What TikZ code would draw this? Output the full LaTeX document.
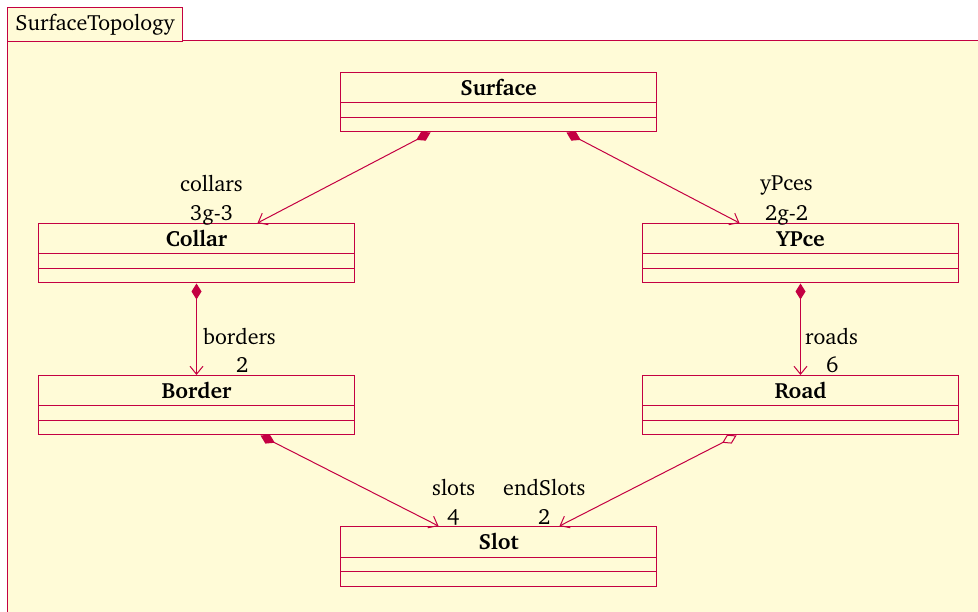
\documentclass[tikz,border=0pt]{standalone}
\usepackage[T1]{fontenc}
\usepackage{charter}
\usetikzlibrary{arrows.meta}

\definecolor{umlred}{RGB}{196,0,66}
\definecolor{umlbg}{RGB}{255,251,215}

\tikzset{
  cls/.style={draw=umlred, fill=umlbg, line width=1pt, minimum width=316pt,
              minimum height=59.5pt, inner sep=0pt, anchor=north west},
  clstitle/.style={font=\fontsize{22}{26}\selectfont\bfseries, anchor=base, inner sep=0pt},
  lbl/.style={font=\fontsize{22}{26}\selectfont, anchor=base west, inner sep=0pt},
  sep/.style={draw=umlred, line width=1pt},
  comp/.style={draw=umlred, line width=1pt,
               {Diamond[length=16pt,width=10pt,fill=umlred]}-{Straight Barb[length=8pt,width=13pt]}},
  aggr/.style={draw=umlred, line width=1pt,
               {Diamond[open,length=16pt,width=10pt,fill=umlbg]}-{Straight Barb[length=8pt,width=13pt]}},
}

% a class box with its name compartment and two empty compartments
\newcommand{\umlclass}[4]{%
  \node[cls] (#1) at (#2,#3) {};
  \node[clstitle] (#1-name) at ([yshift=-23.8pt]#1.north) {#4};
  \draw[sep] ([yshift=-31pt]#1.north west) -- ([yshift=-31pt]#1.north east);
  \draw[sep] ([yshift=-45.5pt]#1.north west) -- ([yshift=-45.5pt]#1.north east);
}

\begin{document}
\begin{tikzpicture}[x=1pt,y=-1pt]
  \useasboundingbox (0,0) rectangle (978,612);
  \clip (0,0) rectangle (978,612);

  % package frame with its tab
  \fill[white] (0,0) rectangle (978,612);
  \draw[umlred, fill=umlbg, line width=1pt] (7,41) rectangle (1000,640);
  \node[draw=umlred, fill=umlbg, line width=1pt, anchor=north west,
        minimum width=175pt, minimum height=34pt, inner sep=0pt,
        font=\fontsize{22}{26}\selectfont] (pkg) at (7,7) {SurfaceTopology};

  % classes
  \umlclass{surface}{340}{72}{Surface}
  \umlclass{collar}{38}{223}{Collar}
  \umlclass{ypce}{642}{223}{YPce}
  \umlclass{border}{38}{375}{Border}
  \umlclass{road}{642}{375}{Road}
  \umlclass{slot}{340}{526}{Slot}

  % associations
  \draw[comp] ([xshift=-68pt]surface.south) -- ([xshift=61pt]collar.north);
  \draw[comp] ([xshift=68pt]surface.south) -- ([xshift=-61pt]ypce.north);
  \draw[comp] (collar.south) -- (border.north);
  \draw[comp] (ypce.south) -- (road.north);
  \draw[comp] ([xshift=64pt]border.south) -- ([xshift=-60pt]slot.north);
  \draw[aggr] ([xshift=-64pt]road.south) -- ([xshift=61pt]slot.north);

  % role names and multiplicities
  \node[lbl] (l-collars) at (180,192) {collars};
  \node[lbl] (m-collars) at (190,221) {3g-3};
  \node[lbl] (l-ypces) at (760,191) {yPces};
  \node[lbl] (m-ypces) at (765,221) {2g-2};
  \node[lbl] (l-borders) at (203,345) {borders};
  \node[lbl] (m-borders) at (236,373) {2};
  \node[lbl] (l-roads) at (805,345) {roads};
  \node[lbl] (m-roads) at (826,373) {6};
  \node[lbl] (l-slots) at (432,495) {slots};
  \node[lbl] (m-slots) at (447,524) {4};
  \node[lbl] (l-endslots) at (503,495) {endSlots};
  \node[lbl] (m-endslots) at (538,524) {2};
\end{tikzpicture}
\end{document}
